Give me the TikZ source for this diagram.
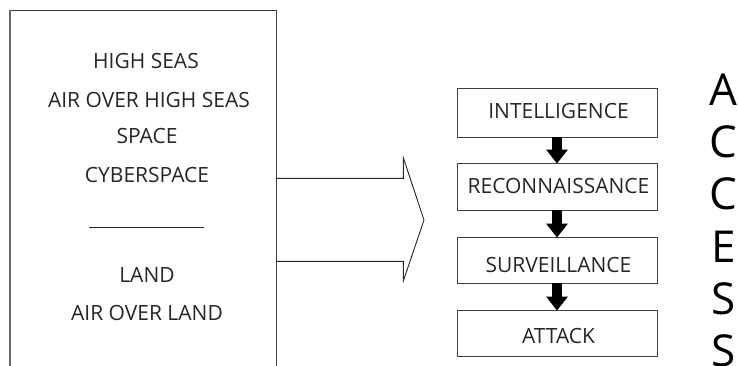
\documentclass[tikz,border=0pt]{standalone}
\usepackage{fontspec}
\setmainfont{Open Sans}
\usetikzlibrary{arrows.meta}
\tikzset{
  lbl/.style={anchor=base, font=\fontsize{21}{22}\selectfont, text=black!85, inner sep=0pt},
  stagebox/.style={draw=black!75, line width=0.9pt, anchor=base, minimum width=200pt, inner sep=0pt,
    font=\fontsize{21}{22}\selectfont, text=black!85},
  flowarrow/.style={line width=10pt, black, -{Triangle[width=21pt,length=14pt]}},
  bigletter/.style={anchor=base, font=\fontsize{44}{45}\selectfont, inner sep=0pt},
  outline/.style={draw=black!75, line width=0.9pt}
}
\begin{document}
\begin{tikzpicture}[x=1pt,y=-1pt]
\useasboundingbox (0,0) rectangle (738,365);
\begin{scope}
\clip (0,0) rectangle (738,365);
% left box (continues below the picture)
\draw[outline] (10,370) -- (10,10) -- (276,10) -- (276,370);
\draw[black!60, line width=1.4pt] (10,370) -- (10,10);
% big arrow
\draw[black!85, line width=0.9pt, line join=miter] (276,178.3) -- (403.3,178.3) -- (403.3,157.7) -- (424,220) -- (403.3,281) -- (403.3,261.3) -- (276,261.3);
\end{scope}

% left texts
\node[lbl] (hs)  at (146,68)  {HIGH SEAS};
\node[lbl] (aohs) at (149,107) {AIR OVER HIGH SEAS};
\node[lbl] (sp)  at (147,143) {SPACE};
\node[lbl] (cy)  at (147,182) {CYBERSPACE};
\coordinate (sepL) at (89,227);
\coordinate (sepR) at (204,227);
\draw[black!85, line width=0.9pt] (sepL) -- (sepR);
\node[lbl] (ld)  at (147,282) {LAND};
\node[lbl] (aol) at (147,320) {AIR OVER LAND};

% stage boxes
\node[stagebox, text height=30pt, text depth=19pt] (b1) at (557,118) {\hspace*{3pt}INTELLIGENCE};
\node[stagebox, text height=30pt, text depth=17pt] (b2) at (557,193) {\hspace*{3pt}RECONNAISSANCE};
\node[stagebox, text height=35pt, text depth=11pt] (b3) at (557,272) {\hspace*{3pt}SURVEILLANCE};
\node[stagebox, text height=33pt, text depth=13pt] (b4) at (557,343) {\hspace*{3pt}ATTACK};

\draw[flowarrow] (b1.south) -- ([yshift=-1pt]b2.north);
\draw[flowarrow] (b2.south) -- ([yshift=-1pt]b3.north);
\draw[flowarrow] (b3.south) -- ([yshift=-1pt]b4.north);

% ACCESS column
\node[bigletter] (lA)  at (723.5,105) {A};
\node[bigletter] (lC1) at (723.5,157) {C};
\node[bigletter] (lC2) at (723.5,209) {C};
\node[bigletter] (lE)  at (723.5,262) {E};
\node[bigletter] (lS1) at (723.5,314) {S};
\node[bigletter] (lS2) at (723.5,366) {S};
\end{tikzpicture}
\end{document}
